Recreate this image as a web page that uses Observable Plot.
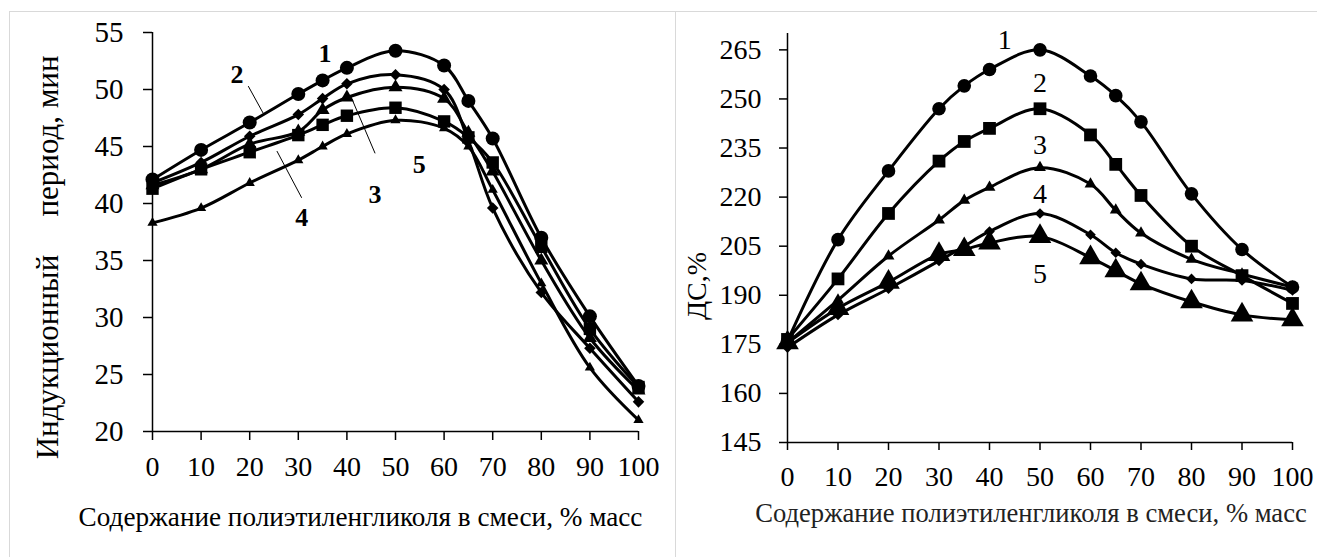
<!DOCTYPE html>
<html><head><meta charset="utf-8">
<script src="https://cdn.jsdelivr.net/npm/d3@7"></script>
<script src="https://cdn.jsdelivr.net/npm/@observablehq/plot@0.6"></script>
<style>
html,body{margin:0;padding:0;background:#fff;}
#wrap{position:relative;width:1317px;height:557px;overflow:hidden;background:#fff;font-family:"Liberation Serif","Times New Roman",serif;}
.box{position:absolute;border:1px solid #d9d9d9;box-sizing:border-box;}
#left,#right{position:absolute;top:0;}
#left{left:0;} #right{left:677px;}
svg text{font-family:"Liberation Serif","Times New Roman",serif !important;}
</style></head><body>
<div id="wrap">
<div class="box" style="left:9px;top:11px;width:667px;height:600px"></div>
<div class="box" style="left:675px;top:11px;width:700px;height:600px"></div>
<div id="left"></div><div id="right"></div>
</div>
<script>
// ---- shared ----
const xValues = [0, 10, 20, 30, 35, 40, 50, 60, 65, 70, 80, 90, 100];
const xTicks = [0, 10, 20, 30, 40, 50, 60, 70, 80, 90, 100];
const xTitle = "Содержание полиэтиленгликоля в смеси, % масс";

// ---- left chart: induction period, min ----
const leftYTicks = [20, 25, 30, 35, 40, 45, 50, 55];
const leftYLabel1 = "Индукционный";
const leftYLabel2 = "период, мин";
const left1 = [42.1, 44.7, 47.1, 49.6, 50.8, 51.9, 53.4, 52.1, 49.0, 45.7, 37.0, 30.1, 24.0]; // circle
const left2 = [41.8, 43.6, 45.9, 47.8, 49.2, 50.5, 51.3, 50.0, 45.5, 39.6, 32.2, 27.3, 22.6]; // diamond
const left3 = [41.6, 43.0, 45.2, 46.3, 48.2, 49.3, 50.2, 49.2, 46.2, 42.8, 35.0, 28.2, 23.6]; // triangle
const left4 = [41.3, 43.0, 44.5, 46.0, 46.9, 47.7, 48.4, 47.2, 45.8, 43.6, 36.2, 29.0, 23.9]; // square
const left5 = [38.3, 39.6, 41.8, 43.8, 45.0, 46.1, 47.3, 46.6, 45.0, 41.2, 33.0, 25.6, 21.0]; // small triangle
const leftLabels = ["1", "2", "3", "4", "5"];
const leftLabelX = [35.5, 17.4, 45.8, 30.7, 54.9];
const leftLabelY = [53.1, 51.3, 40.8, 38.8, 43.4];
const leftLeaderX1 = [19.7, 45.8, 25.6];
const leftLeaderY1 = [50.3, 44.4, 44.6];
const leftLeaderX2 = [22.8, 40.7, 30.7];
const leftLeaderY2 = [47.9, 49.5, 40.5];

// ---- right chart: ДС, % ----
const rightYTicks = [145, 160, 175, 190, 205, 220, 235, 250, 265];
const rightYLabel = "ДС,%";
const right1 = [176.0, 207.0, 228.0, 247.0, 254.0, 259.0, 265.0, 257.0, 251.0, 243.0, 221.0, 204.0, 192.5]; // circle
const right2 = [176.5, 195.0, 215.0, 231.0, 237.0, 241.0, 247.0, 239.0, 230.0, 220.5, 205.0, 196.0, 187.5]; // square
const right3 = [175.5, 188.5, 202.0, 213.0, 219.0, 223.0, 229.0, 224.0, 216.0, 209.0, 201.0, 196.5, 192.5]; // small triangle
const right4 = [174.0, 184.0, 192.0, 200.5, 205.0, 209.5, 215.0, 208.5, 203.0, 199.5, 195.0, 194.5, 191.5]; // diamond
const right5 = [175.5, 186.0, 194.0, 202.5, 204.0, 206.0, 208.0, 201.5, 197.5, 193.5, 188.0, 184.0, 182.5]; // big triangle
const rightLabels = ["1", "2", "3", "4", "5"];
const rightLabelX = [43, 50, 50, 50, 50];
const rightLabelY = [268, 255, 236, 221, 196.5];

const font = '"Liberation Serif","Times New Roman",serif';
const rows = (vals, s) => xValues.map((x, i) => ({x, y: vals[i], s}));
const zip2 = (xs, ys, t) => xs.map((x, i) => ({x, y: ys[i], t: t ? t[i] : null}));

function seriesMarks(list) {
  const marks = [];
  for (const [vals, sym, r] of list) {
    const d = rows(vals, sym);
    marks.push(Plot.line(d, {x: "x", y: "y", curve: "catmull-rom", stroke: "black", strokeWidth: 3}));
  }
  for (const [vals, sym, r] of list) {
    const d = rows(vals, sym);
    marks.push(Plot.dot(d, {x: "x", y: "y", symbol: sym, r, fill: "black", stroke: "none"}));
  }
  return marks;
}

// LEFT
const leftLinks = leftLeaderX1.map((x1, i) => ({x1, y1: leftLeaderY1[i], x2: leftLeaderX2[i], y2: leftLeaderY2[i]}));
const leftPlot = Plot.plot({
  width: 677, height: 557,
  marginLeft: 152, marginRight: 39, marginTop: 32, marginBottom: 126,
  style: {fontFamily: font, background: "transparent", color: "black", overflow: "visible"},
  x: {domain: [0, 100]},
  y: {domain: [20, 55]},
  marks: [
    Plot.axisX({ticks: xTicks, tickSize: 9, tickPadding: 16, fontSize: 28, fontFamily: font, label: null, strokeWidth: 1.5}),
    Plot.axisY({ticks: leftYTicks, tickSize: 9, tickPadding: 20, fontSize: 29, fontFamily: font, label: null, strokeWidth: 1.5}),
    Plot.ruleX([0], {y1: 20, y2: 55, strokeWidth: 1.5}),
    Plot.ruleY([20], {x1: 0, x2: 100, strokeWidth: 1.5}),
    Plot.link(leftLinks, {x1: "x1", y1: "y1", x2: "x2", y2: "y2", stroke: "black", strokeWidth: 1}),
    ...seriesMarks([
      [left1, "circle", 7],
      [left2, "diamond2", 5.2],
      [left3, "triangle", 5.2],
      [left4, "square", 7],
      [left5, "triangle", 3.8]
    ]),
    Plot.text(zip2(leftLabelX, leftLabelY, leftLabels), {x: "x", y: "y", text: "t", fontSize: 26, fontWeight: "bold", fill: "black"}),
    Plot.text([leftYLabel1], {frameAnchor: "left", textAnchor: "middle", lineAnchor: "middle", rotate: -90, dx: -104, dy: 125, fontSize: 31, fill: "black"}),
    Plot.text([leftYLabel2], {frameAnchor: "left", textAnchor: "middle", lineAnchor: "middle", rotate: -90, dx: -104, dy: -96, fontSize: 31, fill: "black"}),
    Plot.text([xTitle], {frameAnchor: "bottom", textAnchor: "middle", lineAnchor: "middle", dx: -35, dy: 86, fontSize: 27.2, fill: "black"})
  ]
});
document.getElementById("left").appendChild(leftPlot);

// RIGHT
const rightPlot = Plot.plot({
  width: 640, height: 557,
  marginLeft: 110, marginRight: 25, marginTop: 33, marginBottom: 115,
  style: {fontFamily: font, background: "transparent", color: "black", overflow: "visible"},
  x: {domain: [0, 100]},
  y: {domain: [145, 270]},
  marks: [
    Plot.axisX({ticks: xTicks, tickSize: 8, tickPadding: 16, fontSize: 28, fontFamily: font, label: null, strokeWidth: 1.5}),
    Plot.axisY({ticks: rightYTicks, tickSize: 8, tickPadding: 18, fontSize: 28, fontFamily: font, label: null, strokeWidth: 1.5}),
    Plot.ruleX([0], {y1: 145, y2: 270, strokeWidth: 1.5}),
    Plot.ruleY([145], {x1: 0, x2: 100, strokeWidth: 1.5}),
    ...seriesMarks([
      [right1, "circle", 6.8],
      [right2, "square", 7.2],
      [right3, "triangle", 4.4],
      [right4, "diamond2", 4.8],
      [right5, "triangle", 8.4]
    ]),
    Plot.text(zip2(rightLabelX, rightLabelY, rightLabels), {x: "x", y: "y", text: "t", fontSize: 28, fill: "black"}),
    Plot.text([rightYLabel], {frameAnchor: "left", textAnchor: "middle", lineAnchor: "middle", rotate: -90, dx: -90, dy: 48, fontSize: 28, fill: "black"}),
    Plot.text([xTitle], {frameAnchor: "bottom", textAnchor: "middle", lineAnchor: "middle", dx: -9, dy: 71, fontSize: 26.6, fill: "#222"})
  ]
});
document.getElementById("right").appendChild(rightPlot);
</script>
</body></html>
